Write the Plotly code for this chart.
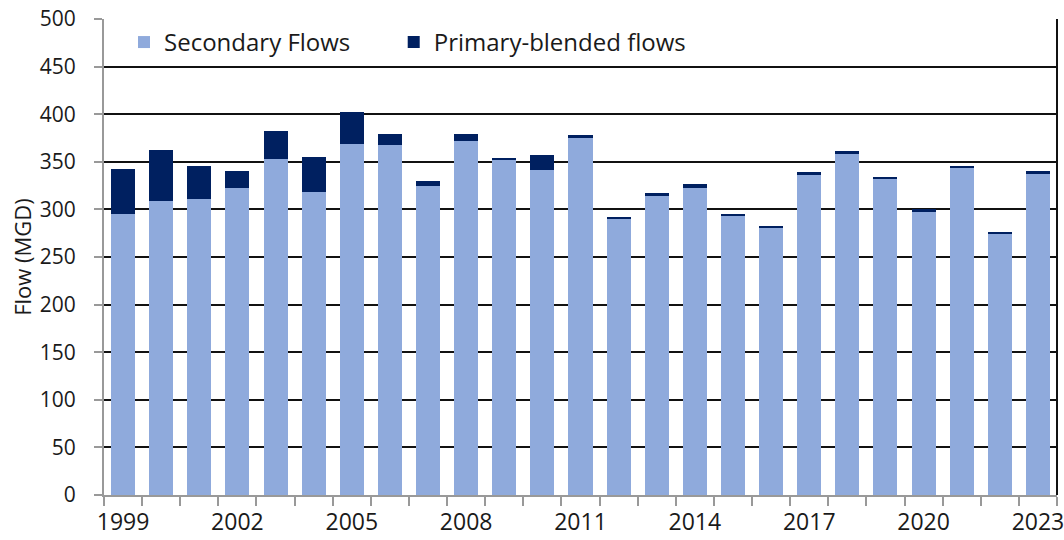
import plotly.graph_objects as go

# Annual flows (MGD)
years = list(range(1999, 2024))
secondary = [295, 309, 311, 323, 353, 318, 369, 368, 325, 372, 352, 341, 375,
             290, 314, 322, 294, 281, 336, 358, 332, 297, 343, 275, 337]
primary_blended = [47, 53, 35, 17, 29, 37, 33, 11, 5, 7, 2, 16, 3,
                   1.5, 3, 4.5, 1.5, 2, 3, 3, 2, 3, 3, 1.5, 3]
label_years = [1999, 2002, 2005, 2008, 2011, 2014, 2017, 2020, 2023]
y_ticks = list(range(0, 501, 50))

FONT = "Open Sans"
LIGHT = "#8FAADC"
DARK = "#002060"

fig = go.Figure()
fig.add_trace(go.Bar(x=years, y=secondary, name="Secondary Flows",
                     marker=dict(color=LIGHT, line=dict(width=0)), width=0.63,
                     legend="legend"))
fig.add_trace(go.Bar(x=years, y=primary_blended, name="Primary-blended flows",
                     marker=dict(color=DARK, line=dict(width=0)), width=0.63,
                     legend="legend2"))

legend_style = dict(orientation="h", y=0.998, xanchor="left", yanchor="top",
                    bgcolor="rgba(255,255,255,0)", font=dict(size=24),
                    itemwidth=30)

fig.update_layout(
    width=1064, height=540,
    barmode="stack",
    plot_bgcolor="white", paper_bgcolor="white",
    margin=dict(l=104, r=7, t=19, b=45),
    font=dict(family=FONT, size=21, color="#1a1a1a"),
    showlegend=True,
    legend=dict(x=0.021, **legend_style),
    legend2=dict(x=0.304, **legend_style),
    xaxis=dict(
        range=[1998.5, 2023.5],
        tickvals=label_years, ticktext=[str(y) for y in label_years],
        ticks="outside", ticklen=0, tickcolor="#888",
        showgrid=False, zeroline=False,
        showline=True, linecolor="#999", linewidth=2,
        tickfont=dict(size=23),
        ticklabelstandoff=5,
        ticklabeloverflow="allow",
        automargin=False,
        minor=dict(tick0=1998.5, dtick=1, ticks="outside", ticklen=9,
                   tickcolor="#999", tickwidth=1.5, showgrid=False),
    ),
    yaxis=dict(
        range=[0, 500], tickvals=y_ticks,
        ticks="outside", ticklen=8, tickcolor="#999", tickwidth=1.5,
        showgrid=True, gridcolor="#111", gridwidth=2,
        zeroline=False,
        showline=True, linecolor="#999", linewidth=2,
        tickfont=dict(size=21),
        ticklabelstandoff=14,
        automargin=False,
        title=dict(text="Flow (MGD)", font=dict(size=22), standoff=2),
    ),
    shapes=[
        dict(type="line", xref="paper", yref="paper", x0=1, x1=1, y0=0, y1=1,
             line=dict(color="#111", width=2)),
    ],
)

fig.write_html("out.html")
